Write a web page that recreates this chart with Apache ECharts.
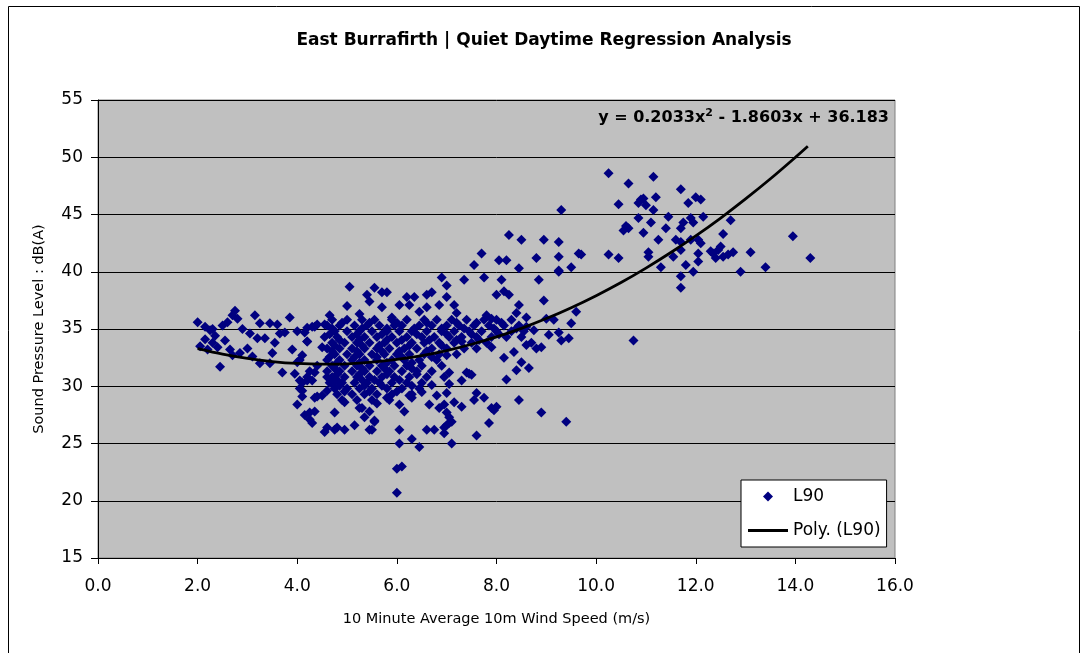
<!DOCTYPE html>
<html>
<head>
<meta charset="utf-8">
<title>East Burrafirth</title>
<script src="https://cdn.jsdelivr.net/npm/echarts/dist/echarts.min.js"></script>
<style>
  html, body { margin: 0; padding: 0; background: #fff; }
  #chart { width: 1088px; height: 653px; }
</style>
</head>
<body>
<div id="chart"></div>
<script>
// L90 points, [wind speed m/s, dB(A)]
var leftPts = [
  [2.0,35.6],[2.15,35.2],[2.25,34.9],[2.35,34.4],[2.3,33.8],[2.2,33.2],[2.05,33.5],[2.4,33.4],[2.5,35.3],[2.6,35.6],
  [2.55,34.0],[2.65,33.2],[2.45,31.7],[2.75,36.6],[2.8,35.9],[2.7,36.2],[2.7,32.7],[2.3,35.0],[2.15,34.1],[2.85,32.9],
  [3.15,36.2],[3.25,35.5],[3.45,35.5],[3.05,34.6],[3.2,34.2],[3.1,32.6],[3.25,32.0],[3.45,32.0],[3.5,32.9],[3.55,33.8],
  [3.65,34.6],[3.75,34.7],[3.85,36.0],[3.7,31.2],[3.95,31.1],[4.05,32.3],[4.1,32.7],[4.15,34.7],[4.2,33.9],[4.3,35.2],
  [4.4,35.4],[4.5,33.4],[2.9,35.0],[3.0,33.3],[3.35,34.2],[3.9,33.2],[4.0,34.8],[3.6,35.4]
];
var lowLeftPts = [
  [4.05,29.8],[4.1,30.3],[4.2,30.5],[4.35,29.0],[4.0,28.4],[4.15,27.5],[4.25,27.7],[4.3,26.8],[4.2,30.8],[4.25,31.3],
  [4.0,32.1],[4.05,30.5],[4.1,29.6],[4.3,30.5],[4.35,31.2],[4.6,30.8],[4.6,29.6],[4.7,30.2],[4.1,29.1],[4.25,27.1],
  [4.35,27.8],[4.4,29.1],[4.75,27.7],[4.6,26.4],[4.8,26.4],[4.95,28.6],[5.25,28.1],[5.45,27.8],[5.45,26.2],[4.5,29.2],
  [4.4,31.8],[4.2,35.1],[4.35,35.2],[4.55,35.4],[4.2,33.9]
];
var bottomPts = [
  [4.55,26.0],[4.75,26.2],[4.95,26.2],[5.15,26.6],[5.5,26.2],[5.55,26.9],[5.3,28.1],[5.35,27.3],[5.55,27.0],[6.05,26.2],
  [6.05,25.0],[6.3,25.4],[6.45,24.7],[6.1,23.0],[6.0,22.8],[6.0,20.7],[6.6,26.2],[6.75,26.2],[6.95,25.9],[7.0,26.6],
  [7.1,26.9],[7.1,25.0],[7.6,25.7]
];
var lowMidPts = [
  [6.05,28.4],[6.25,29.2],[6.3,29.0],[6.65,28.4],[6.85,28.1],[6.95,28.4],[7.05,27.3],[6.7,30.1],[6.8,29.2],[7.0,29.4],
  [7.15,28.6],[7.3,28.2],[7.0,27.7],[7.05,26.8],[6.95,26.4],[7.55,28.8],[7.6,29.4],[7.75,29.0],[7.95,27.9],[7.9,28.1],
  [8.0,28.2],[7.85,26.8],[7.45,31.1],[7.3,30.5],[6.95,30.8],[7.05,30.2],[7.5,31.0],[7.4,31.2],[7.05,31.2],[8.45,28.8],
  [8.9,27.7],[9.4,26.9],[8.2,30.6],[8.4,31.4],[8.65,31.6],[8.5,32.1],[8.15,32.5],[5.8,29.0],[6.5,29.5],[5.6,28.5],[6.15,27.8]
];
var upperMidPts = [
  [5.05,38.7],[5.4,38.0],[5.55,38.6],[5.7,38.2],[5.8,38.2],[5.45,37.4],[5.7,36.9],[6.05,37.1],[6.2,37.8],[6.35,37.8],
  [6.25,37.1],[6.6,38.0],[6.7,38.2],[6.6,36.9],[6.85,37.1],[6.9,39.5],[7.0,38.8],[4.65,36.2],[5.9,36.0],[7.35,39.3],
  [7.75,39.5],[8.1,39.3],[8.85,39.3],[9.25,40.0],[8.0,38.0],[8.15,38.3],[8.25,38.0],[8.95,37.5],[7.0,37.8],[7.15,37.1],
  [8.45,37.1],[7.2,36.4],[7.8,36.2],[7.9,35.9],[8.4,36.4],[8.6,36.0],[9.0,35.9],[9.6,36.5],[9.5,35.5],[9.15,35.8],
  [5.25,36.3],[6.45,36.5],[5.0,37.0]
];
var bandPts = [
  [9.25,34.7],[9.45,34.2],[9.3,34.0],[8.9,33.4],[8.7,33.8],[8.8,33.3],[8.6,33.6],[8.35,33.0],[8.5,34.3],[7.9,33.4],
  [7.6,33.3],[7.3,33.9],[7.0,32.7],[8.75,34.9],[9.05,34.5],[8.6,35.2]
];
var midHighPts = [
  [8.25,43.2],[8.5,42.8],[8.95,42.8],[9.25,42.6],[9.3,45.4],[7.7,41.6],[7.55,40.6],[8.05,41.0],[8.2,41.0],[8.8,41.2],
  [9.25,41.3],[9.65,41.6],[9.5,40.4],[9.25,40.1],[8.45,40.3],[10.75,34.0]
];
var highPts = [
  [10.25,48.6],[10.65,47.7],[11.15,48.3],[11.7,47.2],[12.0,46.5],[12.1,46.3],[11.85,46.0],[10.45,45.9],[10.9,46.3],[10.95,46.4],
  [10.85,46.0],[11.0,45.8],[11.2,46.5],[11.15,45.4],[10.85,44.7],[11.1,44.3],[11.45,44.8],[11.9,44.7],[11.95,44.3],[11.75,44.3],
  [11.7,43.8],[12.15,44.8],[12.7,44.5],[10.65,43.8],[10.95,43.4],[11.4,43.8],[11.25,42.8],[11.6,42.8],[11.7,42.6],[11.9,42.8],
  [12.05,42.8],[12.1,42.5],[12.55,43.3],[10.25,41.5],[10.45,41.2],[9.7,41.5],[11.05,41.7],[11.05,41.3],[11.3,40.4],[11.55,41.3],
  [11.7,41.9],[12.05,41.6],[12.05,40.9],[12.3,41.8],[12.35,41.6],[12.45,41.9],[12.5,42.2],[12.4,41.2],[12.55,41.3],[12.75,41.7],
  [12.65,41.5],[11.8,40.6],[11.95,40.0],[11.7,39.6],[11.7,38.6],[12.9,40.0],[13.1,41.7],[13.4,40.4],[13.95,43.1],[14.3,41.2],
  [10.6,44.0],[10.55,43.6]
];
// dense core, one row per dB level: [dB, [wind speeds]]
var coreRows = [
  [35.8, [4.7,5.0,5.3,5.55,5.9,6.2,6.55,6.8,7.1,7.4,7.75,8.0,8.3]],
  [35.55, [4.9,5.45,6.0,6.6,7.2,7.6,8.1]],
  [35.3, [4.6,4.85,5.15,5.4,5.65,5.95,6.1,6.45,6.7,7.0,7.25,7.55,7.85,8.15,8.45]],
  [35.05, [4.7,5.3,5.8,6.35,6.9,7.35,7.95,8.4]],
  [34.8, [4.75,5.0,5.25,5.5,5.8,6.05,6.3,6.6,6.9,7.15,7.45,7.7,8.0,8.3,8.55]],
  [34.55, [4.65,5.2,5.7,6.4,7.0,7.5,8.05]],
  [34.3, [4.55,4.8,5.1,5.35,5.6,5.9,6.2,6.5,6.75,7.05,7.3,7.6,7.9,8.2]],
  [34.05, [4.85,5.25,5.8,6.1,6.65,7.2,7.65]],
  [33.8, [4.7,4.95,5.2,5.45,5.75,6.0,6.3,6.55,6.85,7.15,7.5,7.8]],
  [33.55, [4.75,5.3,5.65,6.25,6.9]],
  [33.3, [4.6,4.85,5.1,5.35,5.6,5.85,6.15,6.4,6.7,7.0,7.35]],
  [33.05, [4.7,5.2,5.7,6.05,6.6]],
  [32.8, [4.75,5.0,5.25,5.5,5.75,6.0,6.25,6.55,6.85,7.2]],
  [32.55, [4.65,5.15,5.6,6.1,6.7]],
  [32.3, [4.6,4.85,5.1,5.35,5.6,5.9,6.15,6.45,6.8]],
  [32.05, [4.8,5.25,5.8,6.3]],
  [31.8, [4.7,4.95,5.2,5.45,5.7,5.95,6.2,6.5,6.9]],
  [31.55, [4.75,5.3,5.75,6.3]],
  [31.3, [4.6,4.85,5.1,5.35,5.6,5.85,6.1,6.4,6.7]],
  [31.05, [4.8,5.25,5.8,6.4]],
  [30.8, [4.7,4.95,5.2,5.45,5.7,5.95,6.25,6.6]],
  [30.55, [4.8,5.3,5.55,6.05]],
  [30.3, [4.65,4.9,5.15,5.4,5.65,5.9,6.2,6.5]],
  [30.05, [4.85,5.35,5.7,6.3]],
  [29.8, [4.75,5.0,5.25,5.5,5.8,6.1,6.45]],
  [29.55, [4.95,5.45,6.0]],
  [29.3, [4.8,5.1,5.35,5.6,5.9,6.3]],
  [28.8, [4.9,5.2,5.5,5.85]]
];
// Poly. (L90) trend
var trendX = [2.0,2.5,3.0,3.5,4.0,4.5,5.0,5.5,6.0,6.5,7.0,7.5,8.0,8.5,9.0,9.5,10.0,10.5,11.0,11.5,12.0,12.5,13.0,13.5,14.0,14.25];
var trendY = [33.28,32.80,32.43,32.16,31.99,31.93,31.96,32.10,32.34,32.68,33.12,33.67,34.31,35.06,35.91,36.86,37.91,39.06,40.32,41.68,43.13,44.69,46.36,48.12,49.99,50.96];
var xTicks = [0, 16, 2];
var yTicks = [15, 55, 5];

var corePts = [];
coreRows.forEach(function(row){
  row[1].forEach(function(x){ corePts.push([x, row[0]]); });
});
var l90 = [].concat(leftPts, lowLeftPts, bottomPts, lowMidPts, corePts, upperMidPts, bandPts, midHighPts, highPts);
var trend = trendX.map(function(x, i){ return [x, trendY[i]]; });

var FONT = 'DejaVu Sans';
var myChart = echarts.init(document.getElementById('chart'));
var option = {
  animation: false,
  backgroundColor: '#fff',
  textStyle: { fontFamily: FONT, color: '#000' },
  title: [
    {
      text: 'East Burrafirth | Quiet Daytime Regression Analysis',
      left: 'center', top: 27,
      textStyle: { fontFamily: FONT, fontSize: 17, fontWeight: 'bold', color: '#000' }
    },
    {
      text: '{a|y = 0.2033x}{s|2}{a| - 1.8603x + 36.183}',
      right: 194, top: 103,
      textStyle: {
        rich: {
          a: { fontFamily: FONT, fontSize: 16, fontWeight: 'bold', color: '#000' },
          s: { fontFamily: FONT, fontSize: 11, fontWeight: 'bold', color: '#000', verticalAlign: 'top', padding: [0, 0, 8, 0] }
        }
      }
    }
  ],
  graphic: [
    { type: 'rect', shape: { x: 8.5, y: 6.5, width: 1071, height: 660 }, style: { fill: 'none', stroke: '#000', lineWidth: 1 }, z: -1 }
  ],
  legend: {
    orient: 'vertical',
    left: 741, top: 480,
    padding: [8, 6, 8, 7],
    itemWidth: 40, itemHeight: 10, itemGap: 17,
    backgroundColor: '#fff', borderColor: '#000', borderWidth: 1,
    textStyle: { fontFamily: FONT, fontSize: 17, color: '#000' },
    data: [
      { name: 'L90', icon: 'path://M5,0 L10,5 L5,10 L0,5 Z' },
      { name: 'Poly. (L90)', icon: 'path://M0,0 L40,0 L40,3 L0,3 Z' }
    ]
  },
  grid: {
    left: 98, top: 100, width: 797, height: 458,
    show: true, backgroundColor: '#c0c0c0', borderColor: '#808080', borderWidth: 1
  },
  xAxis: {
    type: 'value', min: xTicks[0], max: xTicks[1], interval: xTicks[2],
    name: '10 Minute Average 10m Wind Speed (m/s)', nameLocation: 'middle', nameGap: 54,
    nameTextStyle: { fontFamily: FONT, fontSize: 14.5, color: '#000' },
    axisLine: { show: true, lineStyle: { color: '#000', width: 1 } },
    axisTick: { show: true, inside: false, length: 6, lineStyle: { color: '#000' } },
    axisLabel: { margin: 20, fontFamily: FONT, fontSize: 17, color: '#000', formatter: function(v){ return v.toFixed(1); } },
    splitLine: { show: false }
  },
  yAxis: {
    type: 'value', min: yTicks[0], max: yTicks[1], interval: yTicks[2],
    name: 'Sound Pressure Level : dB(A)', nameLocation: 'middle', nameGap: 51,
    nameTextStyle: { fontFamily: FONT, fontSize: 14.5, color: '#000' },
    axisLine: { show: true, lineStyle: { color: '#000', width: 1 } },
    axisTick: { show: true, inside: false, length: 7, lineStyle: { color: '#000' } },
    axisLabel: { margin: 15, fontFamily: FONT, fontSize: 17, color: '#000' },
    splitLine: { show: true, lineStyle: { color: '#000', width: 1 } }
  },
  series: [
    {
      name: 'L90', type: 'scatter',
      symbol: 'diamond', symbolSize: 10,
      itemStyle: { color: '#000080', opacity: 1 },
      data: l90, z: 2
    },
    {
      name: 'Poly. (L90)', type: 'line',
      smooth: 0.3, showSymbol: false, symbol: 'none',
      lineStyle: { color: '#000', width: 2.8 },
      itemStyle: { color: '#000' },
      data: trend, z: 3
    }
  ]
};
myChart.setOption(option);
</script>
</body>
</html>
